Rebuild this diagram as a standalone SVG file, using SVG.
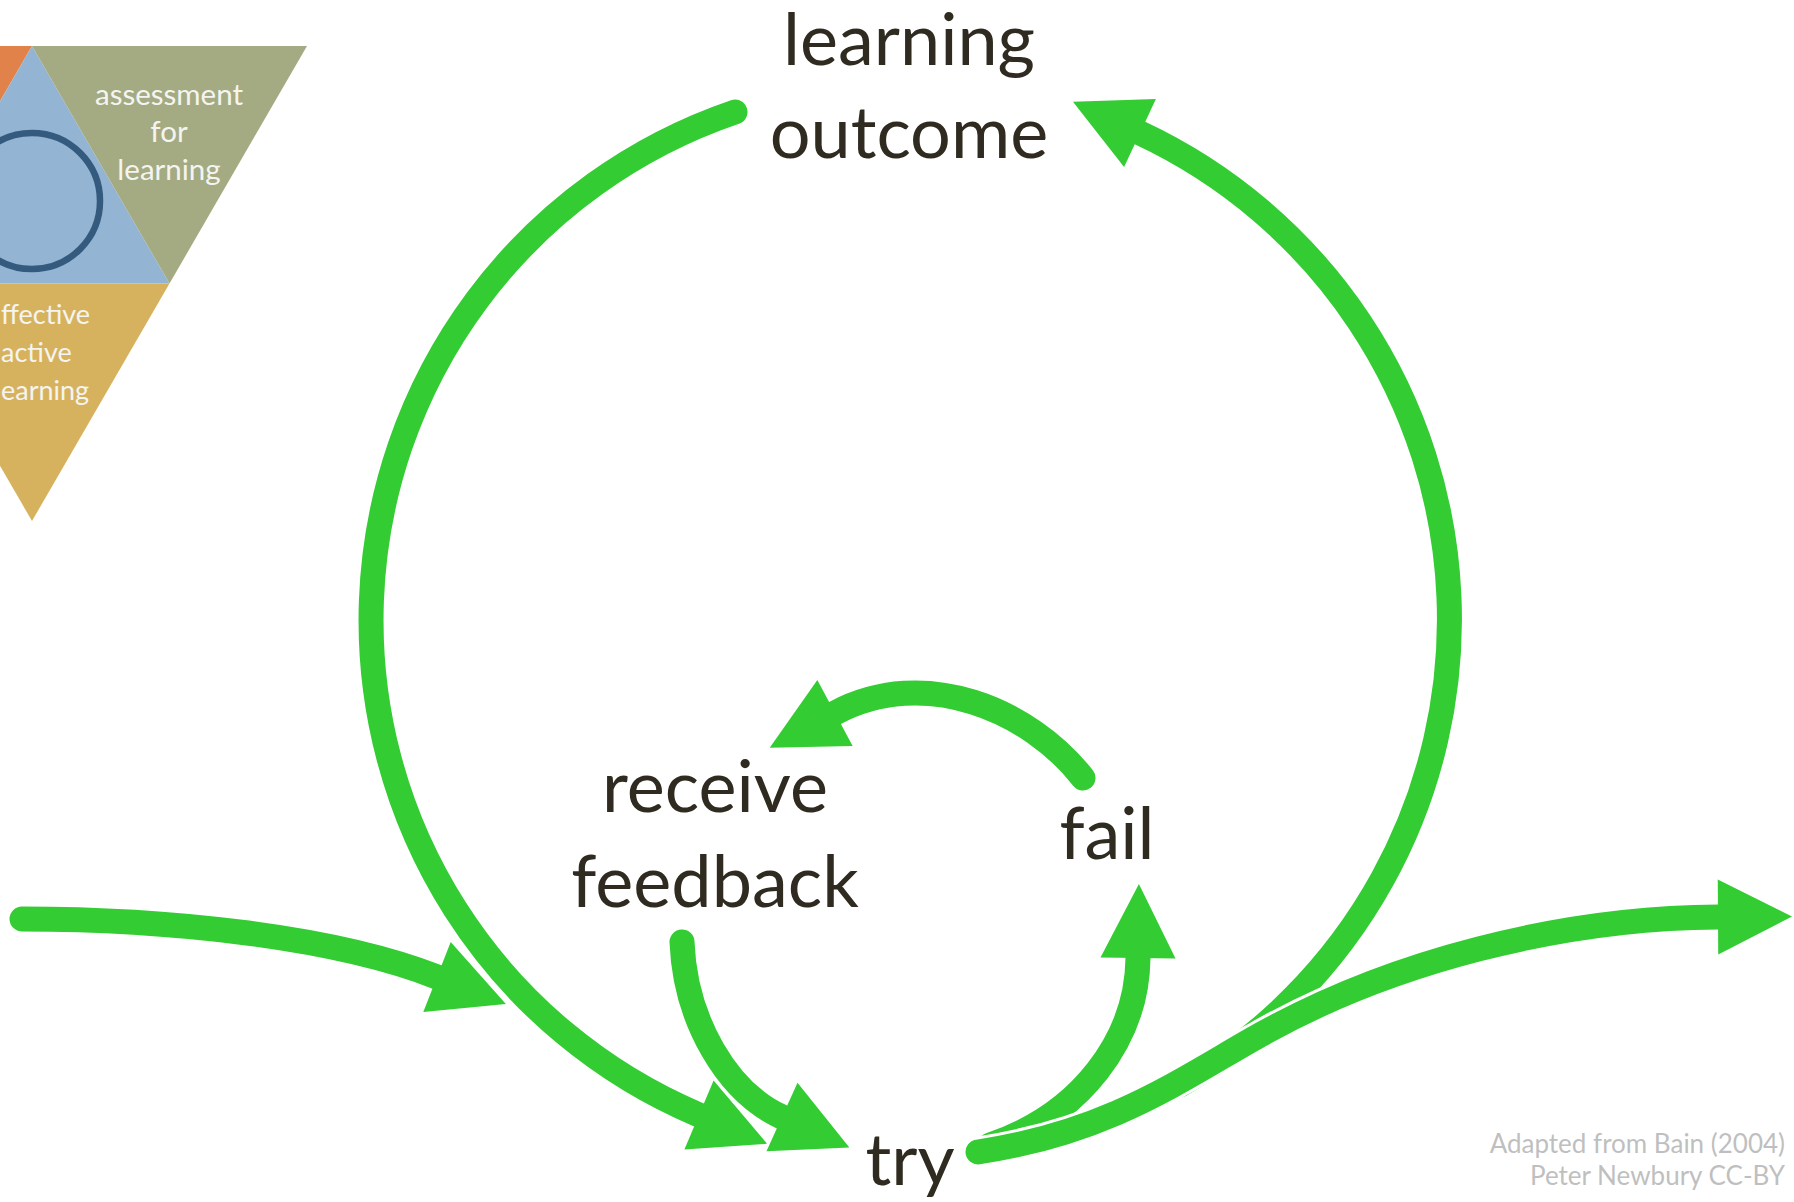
<svg xmlns="http://www.w3.org/2000/svg" width="1794" height="1202" viewBox="0 0 1794 1202">
<style>
.lbl{font-family:Lato,"Open Sans","Liberation Sans",sans-serif;font-size:72px;fill:#302b20;text-anchor:middle}
.tri{font-family:Lato,"Open Sans","Liberation Sans",sans-serif;font-size:29.5px;fill:#f4f4f0}
.tri2{font-family:Lato,"Open Sans","Liberation Sans",sans-serif;font-size:27px;fill:#f4f4f0}
.foot{font-family:Lato,"Open Sans","Liberation Sans",sans-serif;font-size:26px;fill:#bfbfbf;text-anchor:end}
.g{fill:none;stroke:#33cc33;stroke-width:25;stroke-linecap:round}
.h{fill:none;stroke:#ffffff;stroke-width:31;stroke-linecap:round}
</style>
<defs>
<marker id="ah" markerUnits="userSpaceOnUse" markerWidth="80" markerHeight="80" refX="0" refY="37.5" orient="auto" overflow="visible">
<path d="M0,0 L74,37.5 L0,75 Z" fill="#33cc33"/>
</marker>
<marker id="ahw" markerUnits="userSpaceOnUse" markerWidth="80" markerHeight="80" refX="0" refY="37.5" orient="auto" overflow="visible">
<path d="M0,0 L74,37.5 L0,75 Z" fill="#ffffff" stroke="#ffffff" stroke-width="6" stroke-linejoin="round"/>
</marker>
</defs>
<rect width="1794" height="1202" fill="#ffffff"/>

<g id="triangle">
<polygon points="-243,46 32,46 -105.5,283.5" fill="#e0824a"/>
<polygon points="32,46 169.5,283.5 -105.5,283.5" fill="#93b4d3"/>
<polygon points="32,46 307,46 169.5,283.5" fill="#a4ab82"/>
<polygon points="-105.5,283.5 169.5,283.5 32,521" fill="#d7b25e"/>
<circle cx="32" cy="201" r="68" fill="none" stroke="#345a7d" stroke-width="6.5"/>
<text class="tri" text-anchor="middle"><tspan x="169" y="105">assessment</tspan><tspan x="169" y="142">for</tspan><tspan x="169" y="180">learning</tspan></text>
<text class="tri2" text-anchor="start"><tspan x="1" y="324">ffective</tspan><tspan x="1" y="362">active</tspan><tspan x="1" y="400">earning</tspan></text>
</g>

<g id="connectors">
<path id="incoming" class="g" d="M22,919 C160,919 330,935 437,977" marker-end="url(#ah)"/>
<path id="right-arc" class="g" stroke-linecap="butt" d="M1180,1085 A537,537 0 0 0 1140,133" marker-end="url(#ah)"/>
<path id="try-fail" class="g" d="M990,1145 C1080,1115 1137,1040 1138,958" marker-end="url(#ah)"/>
<path class="h" stroke-width="32" d="M978,1152 C1110,1132 1180,1080 1260,1035 C1390,962 1560,918 1718,917" marker-end="url(#ahw)"/>
<path id="outgoing" class="g" stroke-width="26" d="M978,1152 C1110,1132 1180,1080 1260,1035 C1390,962 1560,918 1718,917" marker-end="url(#ah)"/>
<path id="left-arc" class="g" d="M735,112 A537,537 0 0 0 699,1115" marker-end="url(#ah)"/>
<path class="h" d="M682,942 C685,1020 727,1092 782,1117" marker-end="url(#ahw)"/>
<path id="feedback-try" class="g" d="M682,942 C685,1020 727,1092 782,1117" marker-end="url(#ah)"/>
<path id="fail-feedback" class="g" d="M1083,778 C1030,710 925,665 835,713" marker-end="url(#ah)"/>
</g>

<g id="learning-outcome"><text class="lbl"><tspan x="909" y="65">learning</tspan><tspan x="909" y="158">outcome</tspan></text></g>
<g id="receive-feedback"><text class="lbl"><tspan x="715" y="812">receive</tspan><tspan x="715" y="907">feedback</tspan></text></g>
<g id="fail"><text class="lbl" x="1107" y="859">fail</text></g>
<g id="try"><text class="lbl" x="910" y="1185">try</text></g>

<g id="credit"><text class="foot"><tspan x="1785" y="1153">Adapted from Bain (2004)</tspan><tspan x="1785" y="1185">Peter Newbury CC-BY</tspan></text></g>
</svg>
